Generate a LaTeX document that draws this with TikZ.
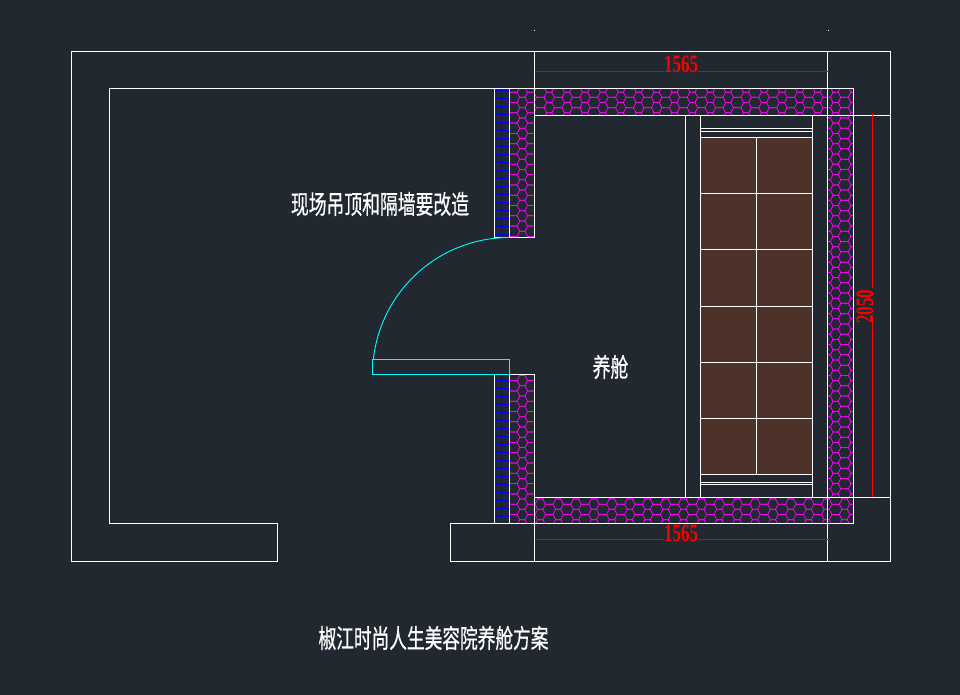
\documentclass[tikz,border=0pt]{standalone}
\usepackage{fontspec}
\setmainfont{Liberation Serif}
\newfontfamily\cjk[FakeBold=0.7]{Noto Sans CJK SC}
\definecolor{bgc}{HTML}{212830}
\definecolor{tile}{HTML}{4D3229}
\definecolor{dimred}{HTML}{C80A0A}
\definecolor{hexc}{RGB}{255,0,255}
\definecolor{doorc}{RGB}{0,255,255}
\definecolor{bluec}{RGB}{0,0,255}
\definecolor{redc}{RGB}{255,0,0}
\newcommand{\hexrun}[2]{%
 \foreach \ii in {#1}{\foreach \jj in {#2}{%
   \pgfmathsetmacro{\cx}{549.2+8.95*\ii}\pgfmathsetmacro{\cy}{97.35+5.15*\jj}%
   \draw[hexline] (\cx-5.2,\cy) -- (\cx-2.6,\cy-5.15) -- (\cx+2.6,\cy-5.15) -- (\cx+5.2,\cy) -- (\cx+2.6,\cy+5.15) -- (\cx-2.6,\cy+5.15) -- cycle
     (\cx-12.7,\cy) -- (\cx-5.2,\cy) (\cx+5.2,\cy) -- (\cx+12.7,\cy);
  }}}
\tikzset{
 wall/.style={draw=white,line width=1pt},
 hexline/.style={draw=hexc,line width=.75pt},
 blueline/.style={draw=bluec,line width=.8pt},
 doorline/.style={draw=doorc,line width=.9pt},
 dimline/.style={draw=dimred,line width=1pt},
 bigtext/.style={text=white,inner sep=0pt,font=\cjk\fontsize{26}{26}\selectfont},
 dimtext/.style={text=redc,inner sep=0pt,font=\bfseries\fontsize{25}{25}\selectfont}
}
\begin{document}
\begin{tikzpicture}[x=1pt,y=-1pt]
\useasboundingbox (0,0) rectangle (960,695);
\fill[bgc] (0,0) rectangle (960,695);
% tiles
\fill[tile] (700.5,137.5) rectangle (812.5,474.5);
% hatch
\begin{scope}
\clip (509.5,88.5) rectangle (534.5,237.5);
\hexrun{-5,-3,-1}{-1,1,...,29}
\end{scope}
\begin{scope}
\clip (509.5,374.5) rectangle (534.5,523.5);
\hexrun{-5,-3,-1}{53,55,...,83}
\end{scope}
\begin{scope}
\clip (534.5,88.5) rectangle (853.5,115.5);
\hexrun{-2,0,...,36}{-2,0,2,4}
\end{scope}
\begin{scope}
\clip (534.5,497.5) rectangle (853.5,523.5);
\hexrun{-1,1,...,35}{77,79,81,83}
\end{scope}
\begin{scope}
\clip (827.5,115.5) rectangle (853.5,497.5);
\hexrun{30,32,34}{2,4,...,78}
\end{scope}
% blue hatch
\begin{scope}
\clip (495,88.5) rectangle (509,237.5);
\foreach \k in {0,...,18}{\draw[blueline] (495,90.3+8*\k) -- (509,90.3+8*\k);}
\draw[blueline,dash pattern=on 13pt off 3pt] (501.7,90.3) -- (501.7,237.5);
\end{scope}
\begin{scope}
\clip (495,374.5) rectangle (509,523.5);
\foreach \k in {0,...,18}{\draw[blueline] (495,380.7+8*\k) -- (509,380.7+8*\k);}
\draw[blueline,dash pattern=on 13pt off 3pt] (501.7,374.5) -- (501.7,523.5);
\end{scope}
% outline
\draw[wall] (109.5,88.5) -- (853.5,88.5) -- (853.5,523.5) -- (450.5,523.5) -- (450.5,561.5) -- (890.5,561.5) -- (890.5,51.5) -- (71.5,51.5) -- (71.5,561.5) -- (277.5,561.5) -- (277.5,523.5) -- (109.5,523.5) -- cycle;
\draw[wall] (534.5,51.5) -- (534.5,237.5) -- (494.5,237.5) -- (494.5,88.5);
\draw[wall] (509.5,88.5) -- (509.5,237.5);
\draw[wall] (534.5,561.5) -- (534.5,374.5) -- (494.5,374.5) -- (494.5,523.5);
\draw[wall] (509.5,374.5) -- (509.5,523.5);
\draw[wall] (827.5,51.5) -- (827.5,561.5);
\draw[wall] (534.5,115.5) -- (890.5,115.5);
\draw[wall] (534.5,497.5) -- (890.5,497.5);
% bed
\draw[wall] (685.5,115.5) -- (685.5,497.5);
\draw[wall] (700.5,115.5) -- (700.5,497.5);
\draw[wall] (812.5,115.5) -- (812.5,497.5);
\draw[wall] (700.5,128.5) -- (812.5,128.5);
\draw[wall] (700.5,131.5) -- (812.5,131.5);
\draw[wall] (700.5,482.5) -- (812.5,482.5);
\draw[wall] (700.5,484.5) -- (812.5,484.5);
\foreach \yy in {137.5,193.5,249.5,306,362,418,474.5}{\draw[wall] (700.5,\yy) -- (812.5,\yy);}
\draw[wall] (756.5,137.5) -- (756.5,474.5);
% door
\draw[doorline] (372.5,359.5) rectangle (509.5,374.5);
\draw[doorline] (509.5,237.5) arc[start angle=-90,end angle=-173.7,radius=137];
% dimension
\node[dimtext] (dimtop) at (681,64.5) {\scalebox{.68}[1]{1565}};
\node[dimtext] (dimbot) at (681,533) {\scalebox{.68}[1]{1565}};
\node[dimtext,rotate=90] (dimside) at (865,306.5) {\scalebox{.68}[1]{2050}};
\coordinate (tl) at (534.5,71.5); \coordinate (tr) at (828.5,71.5);
\coordinate (bl) at (534.5,539.5); \coordinate (br) at (828.5,539.5);
\coordinate (st) at (872.5,113); \coordinate (sb) at (872.5,497);
\draw[dimline] (tl) -- (664,71.5) (698,71.5) -- (tr);
\draw[dimline] (bl) -- (664,539.5) (698,539.5) -- (br);
\draw[draw=redc,line width=1pt] (st) -- (872.5,288) (872.5,321) -- (sb);
% specks
\fill[white] (534,30) rectangle (535,31);
\fill[white] (828,30) rectangle (829,31);
% labels
\node[bigtext] (note) at (380,204) {\scalebox{.685}[1]{现场吊顶和隔墙要改造}};
\node[bigtext] (room) at (610.5,367) {\scalebox{.685}[1]{养舱}};
\node[bigtext] (title) at (433.5,638) {\scalebox{.68}[1]{椒江时尚人生美容院养舱方案}};
\end{tikzpicture}
\end{document}
